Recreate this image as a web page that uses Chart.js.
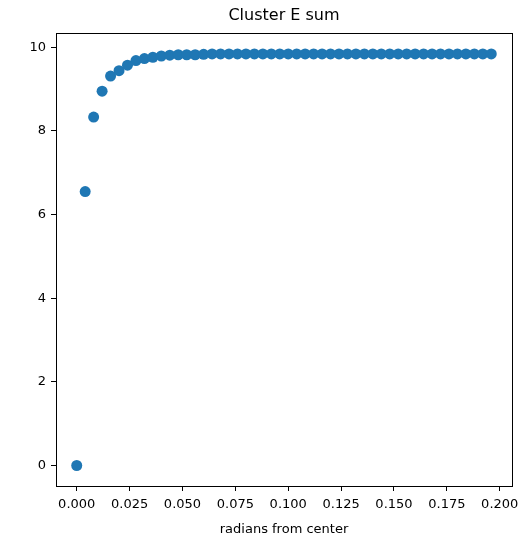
<!DOCTYPE html>
<html>
<head>
<meta charset="utf-8">
<script src="https://cdn.jsdelivr.net/npm/chart.js@4/dist/chart.umd.min.js"></script>
<style>
  html, body { margin: 0; padding: 0; background: #ffffff; }
  canvas { display: block; }
</style>
</head>
<body>
<canvas id="grafico" width="530" height="537"></canvas>
<script>
// datos
const radianes = [
    0.000, 0.004, 0.008, 0.012, 0.016, 0.020, 0.024, 0.028, 0.032, 0.036,
    0.040, 0.044, 0.048, 0.052, 0.056, 0.060, 0.064, 0.068, 0.072, 0.076,
    0.080, 0.084, 0.088, 0.092, 0.096, 0.100, 0.104, 0.108, 0.112, 0.116,
    0.120, 0.124, 0.128, 0.132, 0.136, 0.140, 0.144, 0.148, 0.152, 0.156,
    0.160, 0.164, 0.168, 0.172, 0.176, 0.180, 0.184, 0.188, 0.192, 0.196
];
const sumaE = [
    0.00, 6.55, 8.33, 8.95, 9.31, 9.44, 9.57, 9.68, 9.73, 9.76,
    9.79, 9.81, 9.82, 9.82, 9.82, 9.83, 9.84, 9.84, 9.84, 9.84,
    9.84, 9.84, 9.84, 9.84, 9.84, 9.84, 9.84, 9.84, 9.84, 9.84,
    9.84, 9.84, 9.84, 9.84, 9.84, 9.84, 9.84, 9.84, 9.84, 9.84,
    9.84, 9.84, 9.84, 9.84, 9.84, 9.84, 9.84, 9.84, 9.84, 9.84
];
const ticksX = [0, 0.025, 0.05, 0.075, 0.1, 0.125, 0.15, 0.175, 0.2];
const ticksY = [0, 2, 4, 6, 8, 10];

const titulo = 'Cluster E sum';
const tituloX = 'radians from center';
const fuente = "'DejaVu Sans', sans-serif";

// marco completo y titulo centrado sobre el area del grafico
const marco = {
    id: 'marco',
    afterDraw(chart) {
        const a = chart.chartArea;
        const ctx = chart.ctx;
        ctx.save();
        ctx.strokeStyle = '#000000';
        ctx.lineWidth = 1;
        ctx.strokeRect(a.left + 0.5, a.top + 0.5, a.right - a.left, a.bottom - a.top);
        ctx.fillStyle = '#000000';
        ctx.font = '16px ' + fuente;
        ctx.textAlign = 'center';
        ctx.textBaseline = 'middle';
        ctx.fillText(titulo, (a.left + a.right) / 2, 16);
        ctx.restore();
    }
};

const puntos = radianes.map((x, i) => ({ x: x, y: sumaE[i] }));

new Chart(document.getElementById('grafico'), {
    type: 'scatter',
    data: {
        datasets: [{
            data: puntos,
            backgroundColor: '#1f77b4',
            borderColor: '#1f77b4',
            pointRadius: 5.5,
            pointHoverRadius: 5.5,
            borderWidth: 0
        }]
    },
    options: {
        responsive: false,
        animation: false,
        layout: {
            padding: { left: 0, right: 18, top: 33, bottom: 0 }
        },
        plugins: {
            legend: { display: false },
            tooltip: { enabled: false },
            title: { display: false }
        },
        scales: {
            x: {
                type: 'linear',
                min: -0.0098,
                max: 0.2058,
                afterBuildTicks: (scale) => {
                    scale.ticks = ticksX.map(v => ({ value: v }));
                },
                afterFit: (scale) => { scale.height = 51; },
                grid: {
                    drawOnChartArea: false,
                    drawTicks: true,
                    tickLength: 5,
                    color: '#000000'
                },
                border: { display: true, color: '#000000' },
                ticks: {
                    color: '#000000',
                    font: { family: fuente, size: 13 },
                    padding: 6,
                    maxRotation: 0,
                    callback: (v) => Number(v).toFixed(3)
                },
                title: {
                    display: true,
                    text: tituloX,
                    color: '#000000',
                    font: { family: fuente, size: 13 },
                    padding: { top: 2, bottom: 0 }
                }
            },
            y: {
                type: 'linear',
                min: -0.49,
                max: 10.34,
                afterBuildTicks: (scale) => {
                    scale.ticks = ticksY.map(v => ({ value: v }));
                },
                afterFit: (scale) => { scale.width = 56; },
                grid: {
                    drawOnChartArea: false,
                    drawTicks: true,
                    tickLength: 5,
                    color: '#000000'
                },
                border: { display: true, color: '#000000' },
                ticks: {
                    color: '#000000',
                    font: { family: fuente, size: 13 },
                    padding: 5,
                    callback: (v) => String(v)
                }
            }
        }
    },
    plugins: [marco]
});
</script>
</body>
</html>
